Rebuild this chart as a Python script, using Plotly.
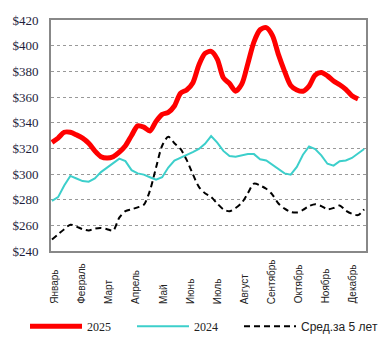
import plotly.graph_objects as go

months = ["Январь", "Февраль", "Март", "Апрель", "Май", "Июнь", "Июль",
          "Август", "Сентябрь", "Октябрь", "Ноябрь", "Декабрь"]
month_pos = [0.5 + 4.42 * k for k in range(12)]

y_ticks = [240, 260, 280, 300, 320, 340, 360, 380, 400, 420]
y_labels = ["$" + str(v) for v in y_ticks]

price_2025 = [324.6, 328, 332.5, 332.5, 330.5, 328, 324, 318, 313.5, 312.5,
              313.5, 317, 322, 330, 337.5, 336.5, 333.5, 341, 346.5, 348,
              353, 363, 365.5, 371, 385, 394, 395.5, 389.5, 375, 370.5,
              364.5, 370, 386, 403, 412.4, 414, 408, 393, 380, 369,
              365.5, 364.5, 368.5, 377, 379, 376.5, 372.5, 369.5, 366, 361,
              358.5]

price_2024 = [279, 282, 291, 298.5, 296.5, 294.5, 294, 296.5, 301.5, 305,
              308.5, 312, 310, 303, 300.5, 299.5, 297.5, 295.5, 297.5, 305,
              310.5, 312.5, 314.5, 317, 319.5, 323.5, 329.5, 324.5, 318, 314,
              313.5, 314.5, 315.5, 315.5, 311.5, 310.5, 307, 304, 300.5, 299.5,
              305.5, 315, 321.5, 319.5, 314.5, 308, 306.5, 310, 310.5, 312.5,
              316, 319.5]

avg_5y = [249, 253, 257, 260.5, 259, 257, 256, 257.5, 258, 257,
          256, 266, 271, 272.5, 274, 276, 287, 305, 322, 329,
          324, 319.5, 311, 300, 290, 285, 282, 277, 272.5, 271,
          273.5, 277.5, 285, 292.5, 291, 288.5, 284, 277, 273, 270.5,
          270, 272, 275, 276.5, 275, 272.5, 273.5, 275.5, 271.5, 269,
          268, 272.5]

weeks_2025 = list(range(len(price_2025)))
weeks_2024 = list(range(len(price_2024)))
weeks_avg = list(range(len(avg_5y)))

fig = go.Figure()
fig.add_trace(go.Scatter(x=weeks_2025, y=price_2025, mode="lines", name="2025",
                         line=dict(color="#FF0000", width=5, shape="spline", smoothing=0.8)))
fig.add_trace(go.Scatter(x=weeks_2024, y=price_2024, mode="lines", name="2024",
                         line=dict(color="#3CCFCB", width=2)))
fig.add_trace(go.Scatter(x=weeks_avg, y=avg_5y, mode="lines",
                         name='<span style="font-family:Liberation Sans">Сред.за 5 лет</span>',
                         legendwidth=85,
                         line=dict(color="#000000", width=2, dash="6px,4px",
                                   shape="spline", smoothing=0.8)))

for m, p in zip(months, month_pos):
    fig.add_annotation(x=p, y=-0.237, xref="x", yref="paper", text=m,
                       textangle=-90, showarrow=False, xanchor="center",
                       yanchor="bottom", width=52, align="left",
                       font=dict(family="Liberation Sans", size=10, color="#222222"))

fig.update_layout(
    width=391, height=353,
    margin=dict(l=51, r=25, t=20, b=97),
    paper_bgcolor="white", plot_bgcolor="white",
    showlegend=True,
    legend=dict(orientation="h", x=-0.079, y=-0.326, xanchor="left", yanchor="middle",
                entrywidth=40, entrywidthmode="pixels", itemwidth=52,
                font=dict(family="Liberation Serif", size=12, color="#222222"),
                bgcolor="rgba(0,0,0,0)"),
    xaxis=dict(range=[-0.16, 51.3], showticklabels=False, showgrid=False,
               zeroline=False, showline=True, mirror=True, linecolor="#888888",
               linewidth=2, ticks=""),
    yaxis=dict(range=[240, 420], tickvals=y_ticks, ticktext=y_labels,
               showgrid=True, gridcolor="#999999", griddash="dot", gridwidth=1,
               zeroline=False, showline=True, mirror=True, linecolor="#888888",
               linewidth=2, ticks="", ticklabelstandoff=8,
               tickfont=dict(family="Liberation Serif", size=13, color="#1E1E3C")),
)

fig.write_html("out.html")
